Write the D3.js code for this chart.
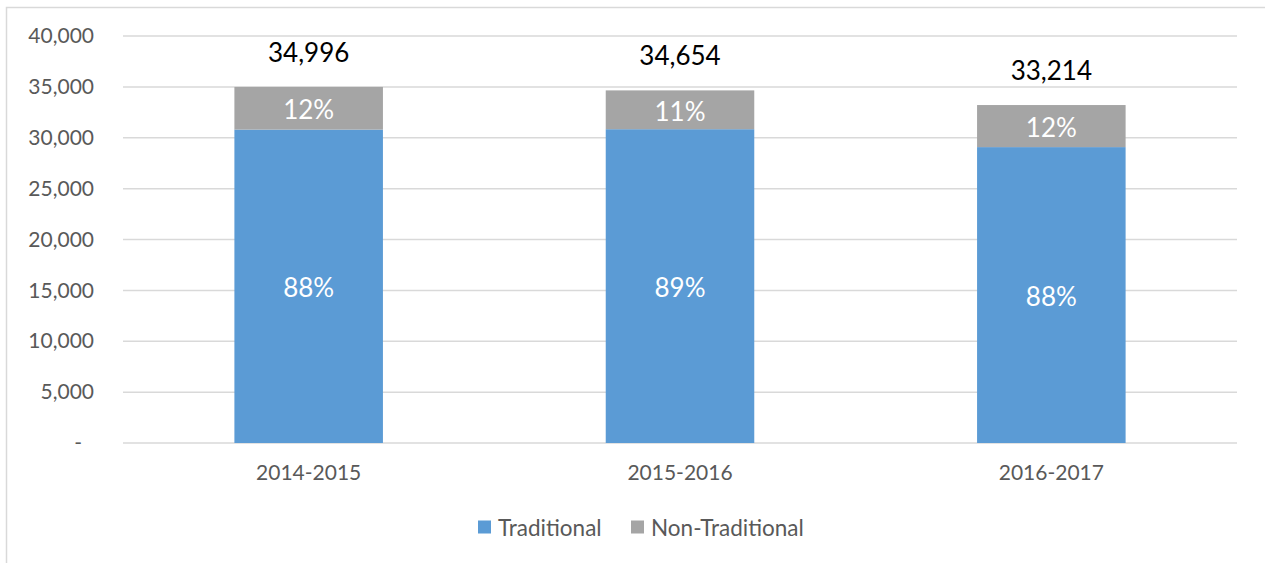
<!DOCTYPE html>
<html>
<head>
<meta charset="utf-8">
<script src="https://cdn.jsdelivr.net/npm/d3@7"></script>
<style>
  body { margin: 0; background: #fff; }
  svg { display: block; font-family: Lato, "Open Sans", sans-serif; }
</style>
</head>
<body>
<div id="chart"></div>
<script>
// data
const years = ['2014-2015', '2015-2016', '2016-2017'];
const traditional = [30800, 30840, 29080];
const nonTraditional = [4196, 3814, 4134];
const yTicks = [0, 5000, 10000, 15000, 20000, 25000, 30000, 35000, 40000];
const seriesNames = ['Traditional', 'Non-Traditional'];
const seriesColors = ['#5B9BD5', '#A5A5A5'];

const W = 1265, H = 563;
const margin = { top: 36, right: 28, bottom: 120, left: 123 };
const width = W - margin.left - margin.right;
const height = H - margin.top - margin.bottom;

const svg = d3.select('#chart')
  .append('svg')
  .attr('width', W)
  .attr('height', H);

// outer chart border
svg.append('rect')
  .attr('x', 6.5)
  .attr('y', 7.5)
  .attr('width', W)
  .attr('height', H)
  .attr('fill', 'none')
  .attr('stroke', '#D9D9D9')
  .attr('stroke-width', 1.5);

const g = svg.append('g')
  .attr('transform', `translate(${margin.left},${margin.top})`);

const x = d3.scaleBand()
  .domain(years)
  .range([0, width])
  .paddingInner(0.6)
  .paddingOuter(0.3);

const y = d3.scaleLinear()
  .domain([0, 40000])
  .range([height, 0]);

// gridlines
g.append('g')
  .selectAll('line')
  .data(yTicks)
  .enter()
  .append('line')
  .attr('x1', 0)
  .attr('x2', width)
  .attr('y1', d => y(d))
  .attr('y2', d => y(d))
  .attr('stroke', '#D9D9D9')
  .attr('stroke-width', 1.5);

// y axis labels
const yAxis = g.append('g')
  .call(d3.axisLeft(y)
    .tickValues(yTicks)
    .tickSize(0)
    .tickPadding(29)
    .tickFormat(d => d === 0 ? '-' : d3.format(',')(d)));
yAxis.select('.domain').remove();
yAxis.selectAll('text')
  .attr('fill', '#595959')
  .style('font-size', '21px')
  .style('font-family', 'Lato, "Open Sans", sans-serif')
  .attr('dx', d => d === 0 ? -12 : 0);

// x axis labels
const xAxis = g.append('g')
  .attr('transform', `translate(0,${height})`)
  .call(d3.axisBottom(x).tickSize(0).tickPadding(22));
xAxis.select('.domain').remove();
xAxis.selectAll('text')
  .attr('fill', '#595959')
  .style('font-size', '21px')
  .style('font-family', 'Lato, "Open Sans", sans-serif');

// stacked data
const rows = years.map((yr, i) => ({
  year: yr,
  Traditional: traditional[i],
  'Non-Traditional': nonTraditional[i],
  total: traditional[i] + nonTraditional[i]
}));
const stacked = d3.stack().keys(seriesNames)(rows);
const pct = d3.format('.0%');

const layers = g.selectAll('.layer')
  .data(stacked)
  .enter()
  .append('g')
  .attr('class', 'layer')
  .attr('fill', (d, i) => seriesColors[i]);

layers.selectAll('rect')
  .data(d => d)
  .enter()
  .append('rect')
  .attr('x', d => x(d.data.year))
  .attr('y', d => y(d[1]))
  .attr('width', x.bandwidth())
  .attr('height', d => y(d[0]) - y(d[1]));

// percentage labels inside segments
layers.selectAll('text')
  .data(d => d.map(p => ({ p, key: d.key })))
  .enter()
  .append('text')
  .attr('x', d => x(d.p.data.year) + x.bandwidth() / 2)
  .attr('y', d => (y(d.p[0]) + y(d.p[1])) / 2 + 1)
  .attr('text-anchor', 'middle')
  .attr('dominant-baseline', 'central')
  .attr('fill', '#fff')
  .style('font-size', '26px')
  .text(d => pct(d.p.data[d.key] / d.p.data.total));

// total labels
g.selectAll('.total')
  .data(rows)
  .enter()
  .append('text')
  .attr('class', 'total')
  .attr('x', d => x(d.year) + x.bandwidth() / 2)
  .attr('y', d => y(d.total) - 35)
  .attr('text-anchor', 'middle')
  .attr('dominant-baseline', 'central')
  .attr('fill', '#000')
  .style('font-size', '26px')
  .text(d => d3.format(',')(d.total));

// legend
const legend = svg.append('g')
  .attr('transform', 'translate(478,527)');
const items = legend.selectAll('g')
  .data(seriesNames)
  .enter()
  .append('g')
  .attr('transform', (d, i) => `translate(${i * 153},0)`);
items.append('rect')
  .attr('x', 0)
  .attr('y', -6.5)
  .attr('width', 13)
  .attr('height', 13)
  .attr('fill', (d, i) => seriesColors[i]);
items.append('text')
  .attr('x', 20)
  .attr('y', 0)
  .attr('dominant-baseline', 'central')
  .attr('fill', '#595959')
  .style('font-size', '22.5px')
  .text(d => d);
</script>
</body>
</html>
